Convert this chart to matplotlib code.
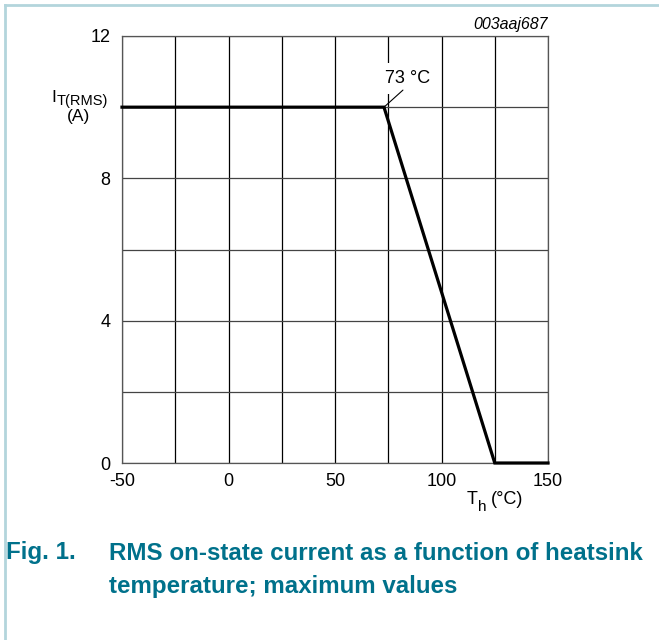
import matplotlib
matplotlib.use("Agg")
import matplotlib.pyplot as plt
from matplotlib.lines import Line2D

plt.rcParams['font.family'] = ['Liberation Sans', 'DejaVu Sans']
plt.rcParams['axes.unicode_minus'] = False

# Data
temp_c = [-50, 73, 125, 150]
current_a = [10, 10, 0, 0]
x_ticks = [-50, 0, 50, 100, 150]
y_ticks = [0, 4, 8, 12]
x_minor = [-25, 25, 75, 125]
y_minor = [2, 6, 10]
knee_label = '73 °C'

fig = plt.figure(figsize=(6.59, 6.40), dpi=100)
ax = fig.add_axes([122/659, 1-463/640, 426/659, 427/640])

ax.plot(temp_c, current_a, color='black', lw=2.3, solid_joinstyle='miter', zorder=3, clip_on=False)

ax.set_xlim(-50, 150)
ax.set_ylim(0, 12)
ax.set_xticks(x_ticks)
ax.set_yticks(y_ticks)
ax.set_xticks(x_minor, minor=True)
ax.set_yticks(y_minor, minor=True)
ax.grid(True, which='both', axis='x', color='black', lw=0.9)
ax.grid(True, which='both', axis='y', color='#444444', lw=0.9)
ax.tick_params(which='both', length=0, labelsize=13, colors='black')
ax.tick_params(axis='x', pad=7)
ax.tick_params(axis='y', pad=8.5)
for s in ax.spines.values():
    s.set_color('#555555')
    s.set_linewidth(0.9)

# annotation
ax.text(84.3, 10.81, knee_label, ha='center', va='center', fontsize=13, zorder=5,
        bbox=dict(boxstyle='square,pad=0.4', fc='white', ec='none'))
ax.annotate('', xy=(temp_c[1], current_a[1]), xytext=(81.9, 10.48),
            arrowprops=dict(arrowstyle='-', color='black', lw=0.8, shrinkA=0, shrinkB=0), zorder=6)

# axis labels
fig.text(51/659, 1-98/640, 'I', ha='left', va='center', fontsize=12.5)
fig.text(57/659, 1-101/640, 'T(RMS)', ha='left', va='center', fontsize=10.5)
fig.text(79/659, 1-117/640, '(A)', ha='center', va='center', fontsize=12.5)
fig.text(467/659, 1-499/640, 'T', ha='left', va='center', fontsize=13)
fig.text(478/659, 1-507/640, 'h', ha='left', va='center', fontsize=11)
fig.text(491/659, 1-499/640, '(°C)', ha='left', va='center', fontsize=13)
fig.text(548/659, 1-24/640, '003aaj687', ha='right', va='center', fontsize=11.5, style='italic')

# caption
cap_color = '#00718b'
fig.text(6/659, 1-553/640, 'Fig. 1.', ha='left', va='center', fontsize=17.4, fontweight='bold', color=cap_color)
fig.text(109/659, 1-553/640, 'RMS on-state current as a function of heatsink', ha='left', va='center',
         fontsize=17.4, fontweight='bold', color=cap_color)
fig.text(109/659, 1-586/640, 'temperature; maximum values', ha='left', va='center',
         fontsize=17.4, fontweight='bold', color=cap_color)

# frame
fig.add_artist(Line2D([4.5/659, 1], [1-4.5/640, 1-4.5/640], transform=fig.transFigure, color='#b3d5dc', lw=2))
fig.add_artist(Line2D([4.5/659, 4.5/659], [0, 1-4.5/640], transform=fig.transFigure, color='#b3d5dc', lw=2))

fig.savefig('out.png', dpi=100)
